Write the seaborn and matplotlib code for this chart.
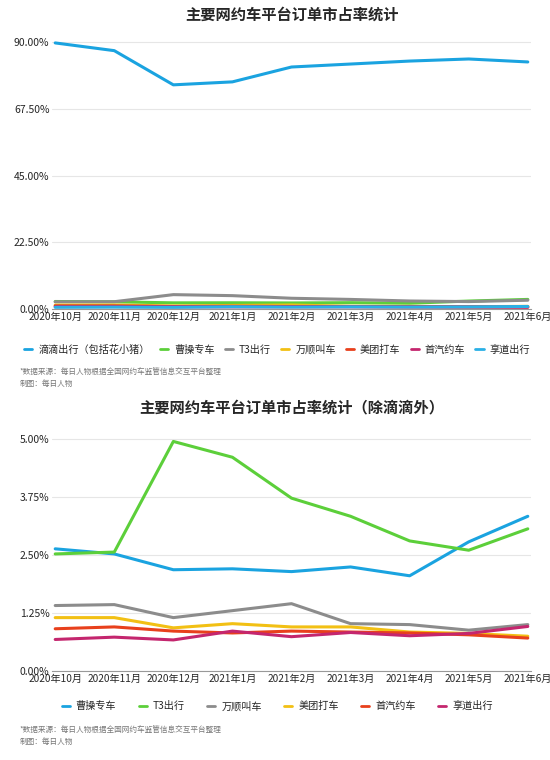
import matplotlib
matplotlib.use('Agg')
import matplotlib.pyplot as plt
import seaborn as sns
import pandas as pd

sns.set_style('white')
plt.rcParams['font.family'] = ['Noto Sans CJK SC', 'DejaVu Sans']

months = ['2020年10月', '2020年11月', '2020年12月', '2021年1月', '2021年2月',
          '2021年3月', '2021年4月', '2021年5月', '2021年6月']

# 上图
didi = [89.6, 87.0, 75.5, 76.5, 81.5, 82.5, 83.5, 84.2, 83.2]
caocao = [2.63, 2.52, 2.18, 2.20, 2.14, 2.24, 2.05, 2.78, 3.33]
t3 = [2.52, 2.56, 4.94, 4.60, 3.72, 3.33, 2.80, 2.60, 3.06]
wanshun = [1.41, 1.43, 1.15, 1.30, 1.45, 1.02, 1.00, 0.88, 1.00]
meituan = [1.15, 1.15, 0.93, 1.02, 0.95, 0.95, 0.84, 0.81, 0.75]
shouqi = [0.91, 0.95, 0.86, 0.82, 0.86, 0.84, 0.82, 0.78, 0.71]
xiangdao = [0.68, 0.73, 0.67, 0.86, 0.74, 0.83, 0.76, 0.81, 0.96]

top_names = ['滴滴出行（包括花小猪）', '曹操专车', 'T3出行', '万顺叫车', '美团打车', '首汽约车', '享道出行']
top_vals = [didi, caocao, t3, wanshun, meituan, shouqi, xiangdao]
top_colors = ['#1aa3e0', '#5ccf3a', '#8c8c8c', '#f2c014', '#e8401c', '#c4266e', '#2ab0e6']

# 下图（图例与原图一致）
bot_names = ['曹操专车', 'T3出行', '万顺叫车', '美团打车', '首汽约车', '享道出行']
bot_vals = [caocao, t3, wanshun, meituan, shouqi, xiangdao]
bot_colors = ['#1aa3e0', '#5ccf3a', '#8c8c8c', '#f2c014', '#e8401c', '#c4266e']


def draw(ax, names, vals, colors, ticks, ylim, title, ncol, legy, colsp):
    df = pd.DataFrame({'month': months * len(names),
                       'name': [n for n in names for _ in months],
                       'v': [x for v in vals for x in v]})
    sns.lineplot(data=df, x='month', y='v', hue='name', palette=colors,
                 hue_order=names, linewidth=2.2, ax=ax, sort=False, legend=False)
    ax.set_ylim(*ylim)
    ax.set_xlim(-0.05, 8.05)
    ax.set_yticks(ticks)
    ax.set_yticklabels([f'{t:.2f}%' for t in ticks], fontsize=7.5)
    ax.tick_params(axis='x', labelsize=7.3, length=0, pad=2)
    ax.tick_params(axis='y', length=0, pad=2)
    ax.grid(axis='y', color='#e6e6e6', linewidth=0.8)
    for s in ['top', 'right', 'left']:
        ax.spines[s].set_visible(False)
    ax.spines['bottom'].set_color('#999999')
    ax.set_xlabel('')
    ax.set_ylabel('')
    ax.set_title(title, fontsize=11, fontweight='bold', pad=14)
    handles = [plt.Line2D([], [], color=c, linewidth=2) for c in colors]
    ax.legend(handles, names, loc='center', bbox_to_anchor=(0.47, legy),
              ncol=ncol, frameon=False, fontsize=7.3, handlelength=0.8,
              columnspacing=colsp, handletextpad=0.6)


fig = plt.figure(figsize=(5.5, 7.6), dpi=100)
ax1 = fig.add_axes([0.095, 0.593, 0.87, 0.356])
draw(ax1, top_names, top_vals, top_colors, [0, 22.5, 45, 67.5, 90], (0, 91),
     '主要网约车平台订单市占率统计', 7, -0.148, 1.0)
ax2 = fig.add_axes([0.095, 0.117, 0.87, 0.315])
draw(ax2, bot_names, bot_vals, bot_colors, [0, 1.25, 2.5, 3.75, 5.0], (0, 5.15),
     '主要网约车平台订单市占率统计（除滴滴外）', 6, -0.146, 2.2)

for y in (0.492, 0.021):
    fig.text(0.035, y + 0.016, '*数据来源：每日人物根据全国网约车监管信息交互平台整理',
             fontsize=5.5, color='#777777')
    fig.text(0.035, y, '制图：每日人物', fontsize=5.5, color='#777777')

fig.savefig('out.png', dpi=100)
